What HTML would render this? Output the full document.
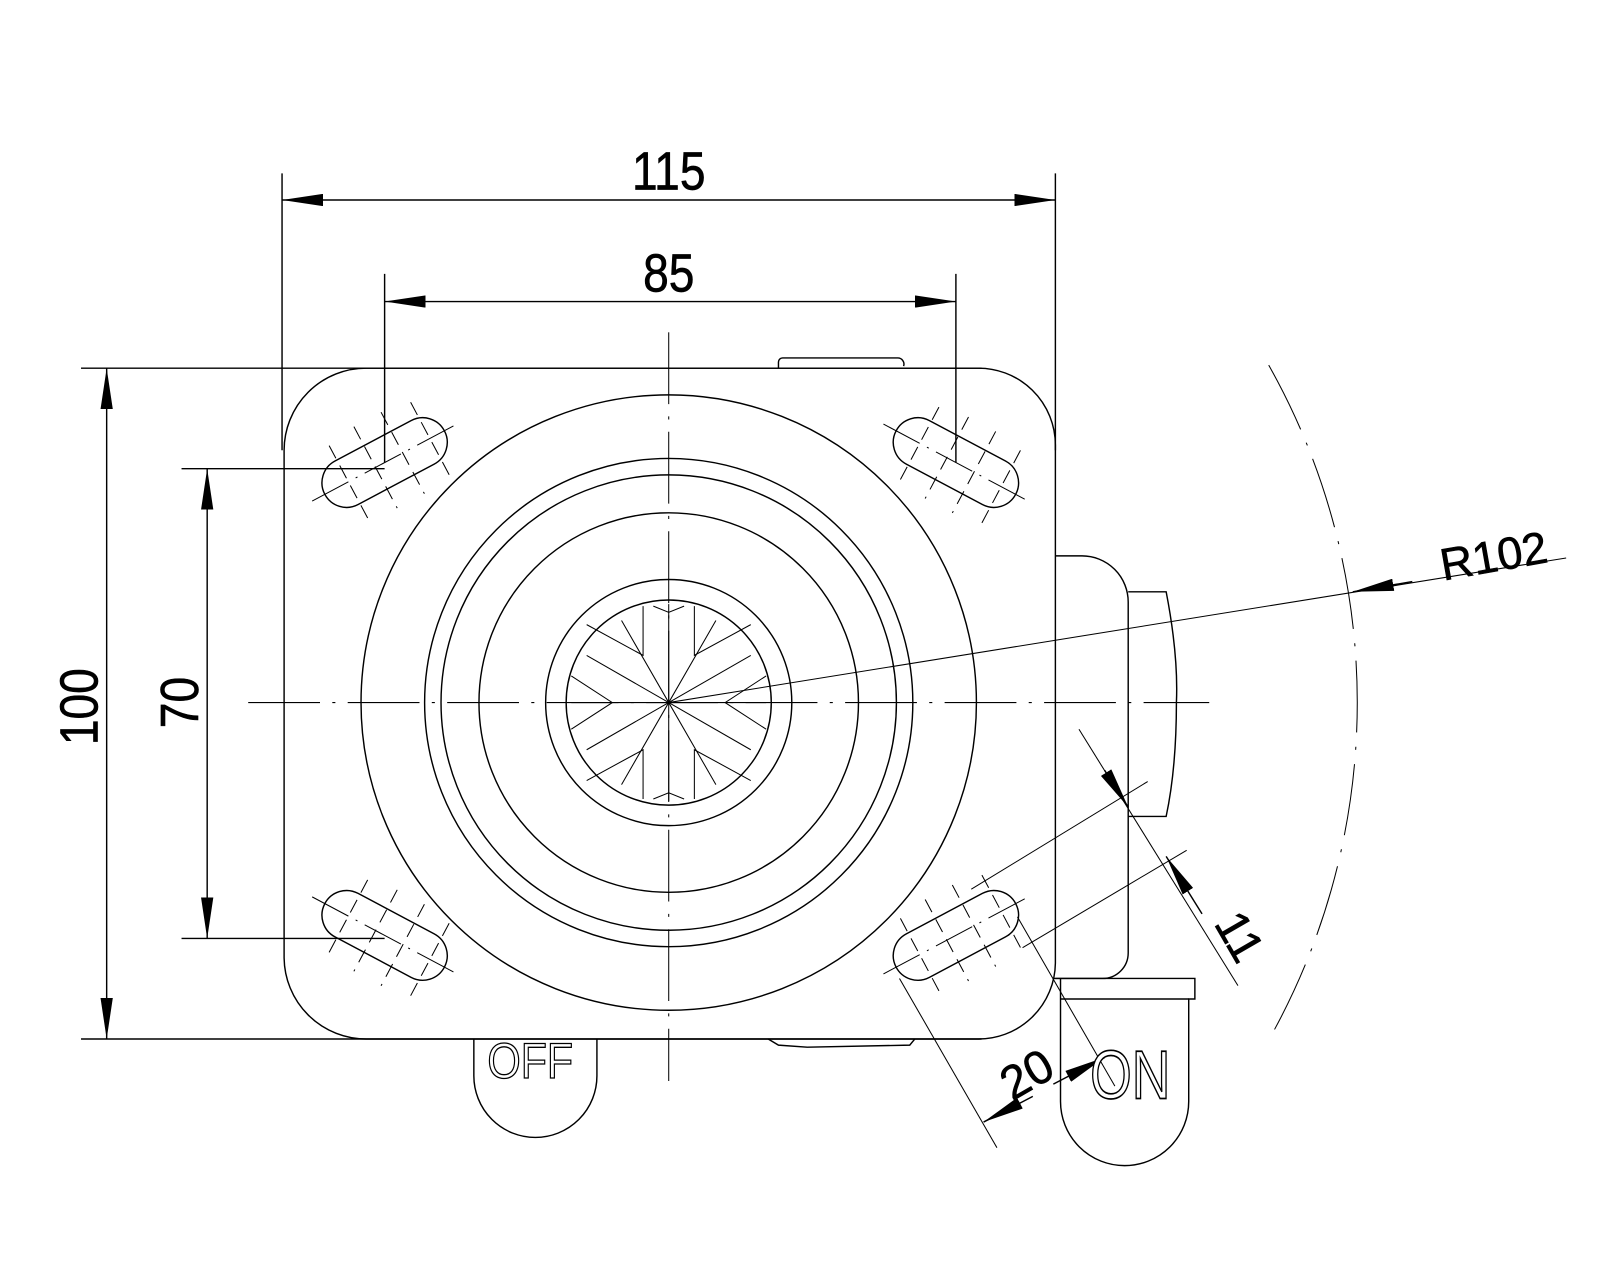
<!DOCTYPE html>
<html><head><meta charset="utf-8"><style>html,body{margin:0;padding:0;background:#fff}svg{display:block}</style></head>
<body>
<svg width="1600" height="1280" viewBox="0 0 1560 1248" preserveAspectRatio="none" xmlns="http://www.w3.org/2000/svg">
<defs>
<marker id="ar" viewBox="0 0 40 12" refX="40" refY="6" markerWidth="40" markerHeight="12" markerUnits="userSpaceOnUse" orient="auto"><path d="M0,0 L40,6 L0,12 Z" fill="#000"/></marker>
<marker id="as" viewBox="0 0 40 12" refX="0" refY="6" markerWidth="40" markerHeight="12" markerUnits="userSpaceOnUse" orient="auto"><path d="M40,0 L0,6 L40,12 Z" fill="#000"/></marker>
<g id="slot" fill="none" stroke="#000" stroke-width="1.4">
 <rect x="-66" y="-24" width="132" height="48" rx="24"/>
 <line x1="-80" y1="0" x2="80" y2="0" stroke-width="1" stroke-dasharray="40,8,2,8"/>
 <g stroke-width="1" stroke-dasharray="14,8">
  <line x1="-40" y1="-40" x2="-40" y2="40"/><line x1="-10" y1="-45" x2="-10" y2="45"/>
  <line x1="20" y1="-45" x2="20" y2="45"/><line x1="50" y1="-40" x2="50" y2="40"/>
 </g>
</g>
</defs>
<g transform="translate(-3,-1)">
<g fill="none" stroke="#000" stroke-width="1.4">
<line x1="278" y1="170" x2="278" y2="440"/>
<line x1="1032" y1="170" x2="1032" y2="440"/>
<line x1="378" y1="268" x2="378" y2="452"/>
<line x1="935" y1="268" x2="935" y2="452"/>
<line x1="82" y1="360" x2="960" y2="360"/>
<line x1="82" y1="1014" x2="960" y2="1014"/>
<line x1="180" y1="458" x2="378" y2="458"/>
<line x1="180" y1="916" x2="378" y2="916"/>
<line x1="278" y1="196" x2="1032" y2="196" marker-start="url(#as)" marker-end="url(#ar)"/>
<line x1="378" y1="295" x2="935" y2="295" marker-start="url(#as)" marker-end="url(#ar)"/>
<line x1="107" y1="360" x2="107" y2="1014" marker-start="url(#as)" marker-end="url(#ar)"/>
<line x1="205" y1="458" x2="205" y2="916" marker-start="url(#as)" marker-end="url(#ar)"/>
<path d="M360,360 L955,360 A75,75 0 0 1 1032,435 L1032,940 A75,75 0 0 1 955,1014 L360,1014 A80,80 0 0 1 280,935 L280,440 A80,80 0 0 1 360,360 Z"/>
<path d="M762,360 L762,354 A4,4 0 0 1 766,350 L878,350 A6,6 0 0 1 884,358"/>
<path d="M752,1014 L762,1020 L790,1022 L890,1020 L895,1014"/>
<circle cx="655" cy="686" r="300"/>
<circle cx="655" cy="686" r="238"/>
<circle cx="655" cy="686" r="222"/>
<circle cx="655" cy="686" r="185"/>
<circle cx="655" cy="686" r="120"/>
<circle cx="655" cy="686" r="100"/>
<g stroke-width="1">
<line x1="655" y1="686" x2="655" y2="590"/><line x1="655" y1="686" x2="655" y2="782"/>
<line x1="655" y1="686" x2="560" y2="686"/><line x1="655" y1="686" x2="750" y2="686"/>
<line x1="655" y1="686" x2="575" y2="640"/><line x1="655" y1="686" x2="735" y2="640"/>
<line x1="655" y1="686" x2="575" y2="732"/><line x1="655" y1="686" x2="735" y2="732"/>
<line x1="655" y1="686" x2="609" y2="606"/><line x1="655" y1="686" x2="701" y2="606"/>
<line x1="655" y1="686" x2="609" y2="766"/><line x1="655" y1="686" x2="701" y2="766"/>
<path d="M630,592 L630,640 L575,610 M680,592 L680,640 L735,610 M630,780 L630,732 L575,762 M680,780 L680,732 L735,762 M560,660 L600,686 L560,712 M750,660 L710,686 L750,712"/>
<path d="M640,592 L655,598 L670,592 M640,780 L655,774 L670,780"/>
</g>
<use href="#slot" transform="translate(378,452) rotate(-28)"/>
<use href="#slot" transform="translate(935,452) rotate(28)"/>
<use href="#slot" transform="translate(378,913) rotate(28)"/>
<use href="#slot" transform="translate(935,913) rotate(-28)"/>
<g stroke-width="1" stroke-dasharray="70,12,3,12">
<line x1="245" y1="686" x2="1182" y2="686"/>
<line x1="655" y1="325" x2="655" y2="1055"/>
</g>
<path d="M1240,357 A670,670 0 0 1 1240,1015" stroke-width="1" stroke-dasharray="70,14,3,14"/>
<line x1="655" y1="686" x2="1530" y2="545" stroke-width="1"/>
<line x1="1380" y1="568" x2="1322" y2="578" marker-end="url(#ar)"/>
<path d="M1032,543 L1058,543 A45,45 0 0 1 1103,588 L1103,930 A25,25 0 0 1 1078,955 L1032,955"/>
<path d="M1103,578 L1140,578 Q1152,640 1150,686 Q1150,750 1140,797 L1103,797"/>
<path d="M1030,955 L1168,955 L1168,975 L1162,975 L1162,1075 A62,62 0 0 1 1037,1075 L1037,955"/>
<line x1="1037" y1="975" x2="1162" y2="975"/>
<path d="M465,1014 L465,1050 A60,60 0 0 0 585,1050 L585,1014"/>
<line x1="1055" y1="712" x2="1210" y2="962" stroke-width="1"/>
<line x1="1080" y1="752" x2="1103" y2="788" marker-end="url(#ar)"/>
<line x1="1175" y1="892" x2="1140" y2="836" marker-end="url(#ar)"/>
<line x1="950" y1="868" x2="1122" y2="763" stroke-width="1"/>
<line x1="1000" y1="925" x2="1160" y2="830" stroke-width="1"/>
<line x1="880" y1="955" x2="975" y2="1120" stroke-width="1"/>
<line x1="995" y1="895" x2="1090" y2="1060" stroke-width="1"/>
<line x1="1010" y1="1070" x2="962" y2="1095" marker-end="url(#ar)"/>
<line x1="1030" y1="1058" x2="1080" y2="1032" marker-end="url(#ar)"/>
</g>
<g font-family="Liberation Sans, sans-serif" fill="#000" stroke="#000" stroke-width="0.6">
<text transform="translate(655,186) scale(0.9,1.05)" font-size="50" text-anchor="middle">115</text>
<text transform="translate(655,285) scale(0.9,1.05)" font-size="50" text-anchor="middle">85</text>
<text transform="translate(98,690) rotate(-90) scale(0.9,1.05)" font-size="50" text-anchor="middle">100</text>
<text transform="translate(196,686) rotate(-90) scale(0.9,1.05)" font-size="50" text-anchor="middle">70</text>
<text transform="translate(1462,558) rotate(-10)" font-size="44" text-anchor="middle">R102</text>
<text transform="translate(1198,922) rotate(60)" font-size="46" text-anchor="middle">11</text>
<text transform="translate(1012,1062) rotate(-30)" font-size="46" text-anchor="middle">20</text>
<text transform="translate(1105,1072) scale(0.9,1.15)" font-size="58" text-anchor="middle" fill="#fff" stroke-width="1.4">ON</text>
<text transform="translate(520,1052) scale(0.95,1.1)" font-size="44" text-anchor="middle" fill="#fff" stroke-width="1.2">OFF</text>
</g>
</g>
</svg>
</body></html>
